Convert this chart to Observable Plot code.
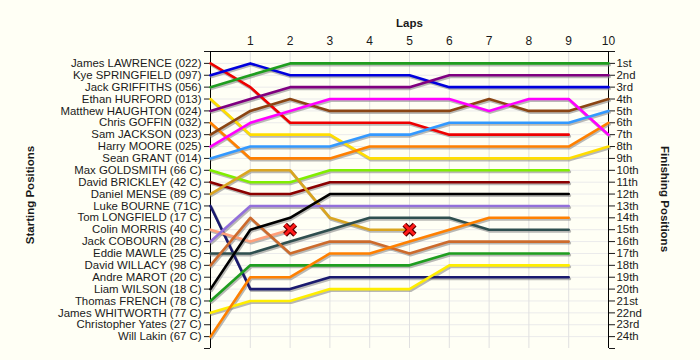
<!DOCTYPE html>
<html>
<head>
<meta charset="utf-8">
<script src="https://cdn.jsdelivr.net/npm/d3@7"></script>
<script src="https://cdn.jsdelivr.net/npm/@observablehq/plot@0.6"></script>
<style>
  html, body { margin: 0; padding: 0; background: #fffff5; }
  #chart svg { display: block; }
</style>
</head>
<body>
<div id="chart"></div>
<script>
const laps = [0, 1, 2, 3, 4, 5, 6, 7, 8, 9, 10];

const names = [
  "James LAWRENCE (022)", "Kye SPRINGFIELD (097)", "Jack GRIFFITHS (056)",
  "Ethan HURFORD (013)", "Matthew HAUGHTON (024)", "Chris GOFFIN (032)",
  "Sam JACKSON (023)", "Harry MOORE (025)", "Sean GRANT (014)",
  "Max GOLDSMITH (66 C)", "David BRICKLEY (42 C)", "Daniel MENSE (89 C)",
  "Luke BOURNE (71C)", "Tom LONGFIELD (17 C)", "Colin MORRIS (40 C)",
  "Jack COBOURN (28 C)", "Eddie MAWLE (25 C)", "David WILLACY (98 C)",
  "Andre MAROT (20 C)", "Liam WILSON (18 C)", "Thomas FRENCH (78 C)",
  "James WHITWORTH (77 C)", "Christopher Yates (27 C)", "Will Lakin (67 C)"
];

const finishLabels = [
  "1st", "2nd", "3rd", "4th", "5th", "6th", "7th", "8th", "9th", "10th",
  "11th", "12th", "13th", "14th", "15th", "16th", "17th", "18th", "19th",
  "20th", "21st", "22nd", "23rd", "24th"
];

const lineColors = [
  "#ee0000", "#0000dd", "#1f9e1f", "#ffdd00", "#800080", "#ff8000",
  "#8b4513", "#ff00ff", "#3399ff", "#80ee00", "#8b0000", "#daa520",
  "#1a1a6e", null, "#ffa07a", "#9370db", "#2f4f4f", "#cd6b2c",
  null, "#000000", "#1f9e1f", "#ffee00", null, "#ff8000"
];

// position of each driver (by grid slot) at lap 0, 1, 2, ...
const lapPositions = [
  [1, 3, 6, 6, 6, 6, 7, 7, 7, 7],
  [2, 1, 2, 2, 2, 2, 3, 3, 3, 3, 3],
  [3, 2, 1, 1, 1, 1, 1, 1, 1, 1, 1],
  [4, 7, 7, 7, 9, 9, 9, 9, 9, 9, 8],
  [5, 4, 3, 3, 3, 3, 2, 2, 2, 2, 2],
  [6, 9, 9, 9, 8, 8, 8, 8, 8, 8, 6],
  [7, 5, 4, 5, 5, 5, 5, 4, 5, 5, 4],
  [8, 6, 5, 4, 4, 4, 4, 5, 4, 4, 7],
  [9, 8, 8, 8, 7, 7, 6, 6, 6, 6, 5],
  [10, 11, 11, 10, 10, 10, 10, 10, 10, 10],
  [11, 12, 12, 11, 11, 11, 11, 11, 11, 11],
  [12, 10, 10, 14, 15, 15],
  [13, 20, 20, 19, 19, 19, 19, 19, 19, 19],
  [],
  [15, 16, 15],
  [16, 13, 13, 13, 13, 13, 13, 13, 13, 13],
  [17, 17, 16, 15, 14, 14, 14, 15, 15, 15],
  [18, 14, 17, 16, 16, 17, 16, 16, 16, 16],
  [],
  [20, 15, 14, 12, 12, 12, 12, 12, 12, 12],
  [21, 18, 18, 18, 18, 18, 17, 17, 17, 17],
  [22, 21, 21, 20, 20, 20, 18, 18, 18, 18],
  [],
  [24, 19, 19, 17, 17, 16, 15, 14, 14, 14]
];

const retiredLap = [2, 5];
const retiredPos = [15, 15];

const rows = [];
lapPositions.forEach((ps, i) => {
  ps.forEach((p, k) => rows.push({driver: names[i], lap: laps[k], pos: p, color: lineColors[i]}));
});
const retired = retiredLap.map((l, i) => ({lap: l, pos: retiredPos[i]}));

const txt = "#1a1a1a";
const chart = Plot.plot({
  width: 700,
  height: 360,
  marginLeft: 210,
  marginRight: 92,
  marginTop: 51,
  marginBottom: 12,
  x: {domain: [0, 10], axis: null},
  y: {domain: [0, 25], reverse: true, axis: null},
  color: {type: "identity"},
  style: {background: "#fffff5", fontFamily: "'Liberation Sans', Arial, sans-serif", fontSize: "11.4px", color: txt},
  marks: [
    Plot.ruleY(d3.range(1, 25), {x1: 0, x2: 10, stroke: "#ebebeb"}),
    Plot.ruleX(laps.slice(1, 10), {y1: 0, y2: 25, stroke: "#e0e0e0"}),
    Plot.ruleX([0, 10], {y1: 0, y2: 25, stroke: "#000"}),
    Plot.ruleY([0], {x1: 0, x2: 10, stroke: "#000"}),
    Plot.axisY({anchor: "left", ticks: d3.range(0, 26), tickFormat: d => names[d - 1] ?? "", tickSize: 6, tickPadding: 3, label: null, fill: txt}),
    Plot.axisY({anchor: "right", ticks: d3.range(0, 26), tickFormat: d => finishLabels[d - 1] ?? "", tickSize: 6, tickPadding: 2, label: null, fill: txt}),
    Plot.axisX({anchor: "top", ticks: d3.range(1, 11), tickSize: 0, tickPadding: 7, label: null, fontSize: 12, fill: txt}),
    Plot.text(["Laps"], {frameAnchor: "top", dy: -33, fontWeight: "bold", fontSize: 11.5, fill: txt}),
    Plot.text(["Starting Positions"], {frameAnchor: "left", textAnchor: "middle", dx: -180, dy: -5, rotate: -90, fontWeight: "bold", fontSize: 11.5, fill: txt}),
    Plot.text(["Finishing Positions"], {frameAnchor: "right", textAnchor: "middle", dx: 56, dy: -1, rotate: 90, fontWeight: "bold", fontSize: 11.5, fill: txt}),
    Plot.line(rows, {x: "lap", y: "pos", z: "driver", stroke: "#8a8a8a", strokeOpacity: 0.6, strokeWidth: 3, dx: 1, dy: 1.5}),
    Plot.line(rows, {x: "lap", y: "pos", z: "driver", stroke: "color", strokeWidth: 2.6}),
    Plot.dot(retired, {x: "lap", y: "pos", symbol: "times", r: 4.7, stroke: "#5a0000", strokeWidth: 5.5}),
    Plot.dot(retired, {x: "lap", y: "pos", symbol: "times", r: 4.7, stroke: "#ff1a1a", strokeWidth: 3})
  ]
});
document.getElementById("chart").appendChild(chart);
</script>
</body>
</html>
